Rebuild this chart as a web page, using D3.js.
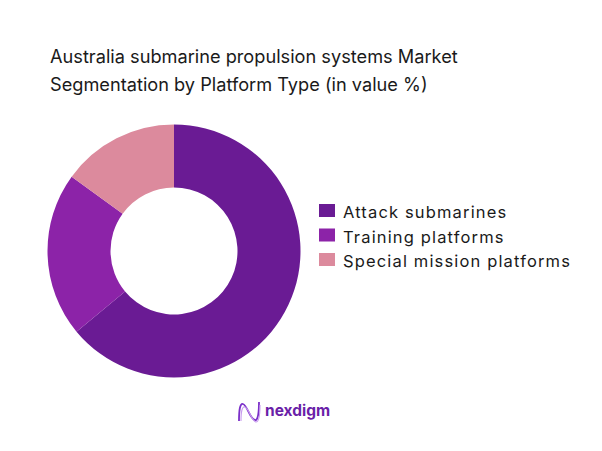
<!DOCTYPE html>
<head>
<meta charset="UTF-8">
<title>Australia submarine propulsion systems Market Segmentation</title>
<script type="text/javascript" src="https://cdnjs.cloudflare.com/ajax/libs/d3/7.8.5/d3.min.js"></script>
<style>
body{margin:0;background:#fff;}
text{font-family:"Inter","Open Sans",sans-serif;fill:#1a1a1a;}
.title{font-size:18.2px;}
.legend{font-size:16.5px;letter-spacing:1.15px;}
.brand{font-size:15.5px;font-weight:700;fill:#6a1fa8;}
</style>
</head>
<body>
<div id="chart"></div>
<script type="text/javascript">
var categories=["Attack submarines","Training platforms","Special mission platforms"];
var shares=[64,21,15];
var colours=["#6a1b94","#8c23a8","#dc8a9d"];
var titleLines=["Australia submarine propulsion systems Market","Segmentation by Platform Type (in value %)"];

var width=602, height=451;
var svg=d3.select("#chart").append("svg").attr("width",width).attr("height",height);

svg.selectAll(".title").data(titleLines).enter().append("text")
  .attr("class","title")
  .attr("x",50)
  .attr("y",function(d,i){return 63+i*27.5;})
  .text(function(d){return d;});

var pie=d3.pie().sort(null).value(function(d){return d;});
var arc=d3.arc().innerRadius(63.5).outerRadius(126.5);
var colour=d3.scaleOrdinal().domain(categories).range(colours);

var g=svg.append("g").attr("transform","translate(174,251)");
g.selectAll("path").data(pie(shares)).enter().append("path")
  .attr("d",arc)
  .attr("fill",function(d,i){return colour(categories[i]);});

var leg=svg.selectAll(".leg").data(categories).enter().append("g")
  .attr("transform",function(d,i){return "translate(319,"+(204+i*24.5)+")";});
leg.append("rect").attr("width",16).attr("height",13).attr("fill",function(d){return colour(d);});
leg.append("text").attr("class","legend").attr("x",24).attr("y",14).text(function(d){return d;});

// logo
var logo=svg.append("g").attr("transform","translate(238,402)");
logo.append("path").attr("d","M1,19 C1,8 2,1 5,2 C9,3 12,17 17,18 C20,19 21,10 21,0")
  .attr("fill","none").attr("stroke","#7b2fc9").attr("stroke-width",1.8);
logo.append("path").attr("d","M3,19 C3,10 4,4 7,5 C11,6 13,19 18,20 C21,20 22,12 22,3")
  .attr("fill","none").attr("stroke","#c79aee").attr("stroke-width",1.1);
logo.append("text").attr("class","brand").attr("x",27).attr("y",14).text("nexdigm");
</script>
</body>
</html>
